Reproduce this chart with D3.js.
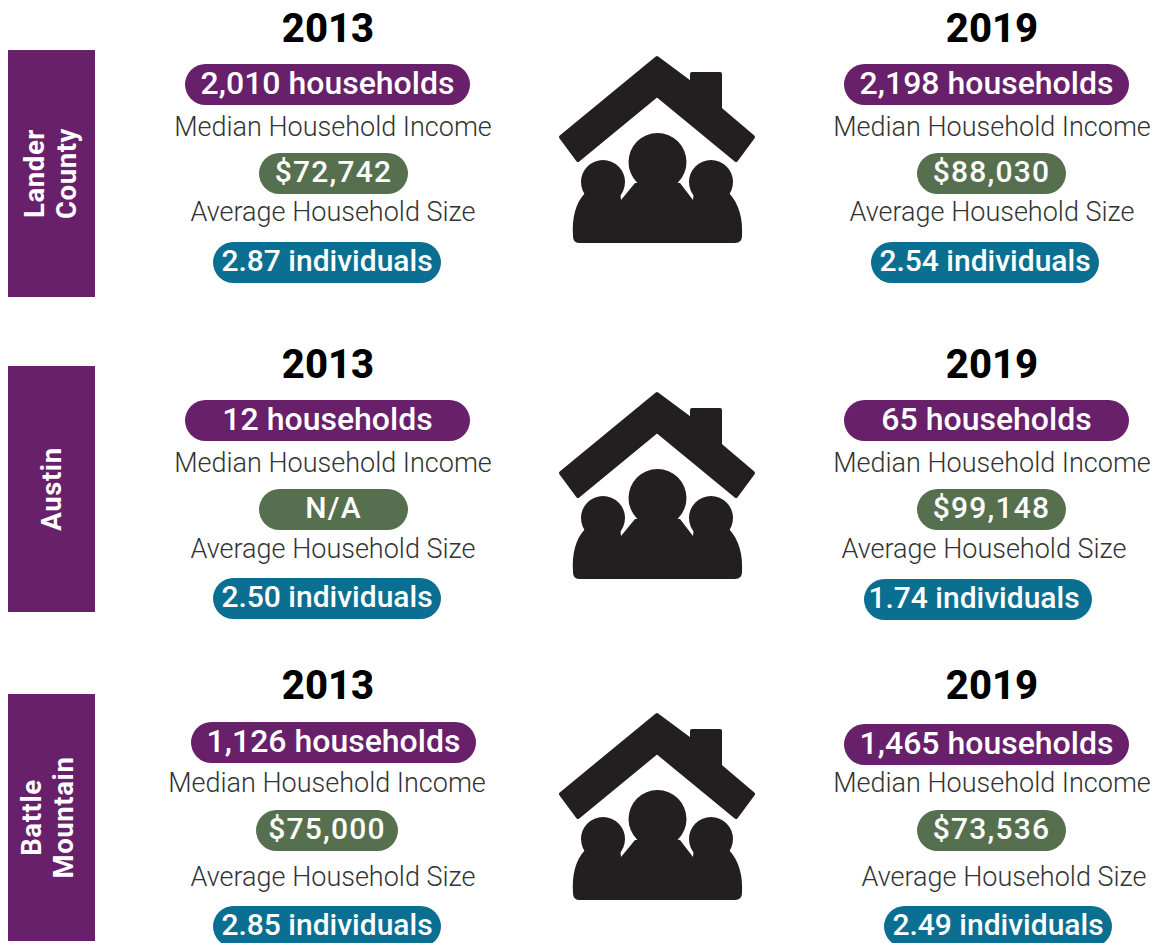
<!DOCTYPE html>
<html><head><meta charset="utf-8">
<script src="https://cdnjs.cloudflare.com/ajax/libs/d3/7.8.5/d3.min.js"></script>
<style>html,body{margin:0;padding:0;background:#fff}svg{display:block}text{font-family:Roboto,sans-serif}</style>
</head><body><svg id="c" width="1154" height="943"></svg>
<script>
const places = [["Lander","County"],["Austin"],["Battle","Mountain"]];
const years = ["2013","2019"];
const households = [["2,010 households","2,198 households"],["12 households","65 households"],["1,126 households","1,465 households"]];
const incomes = [["$72,742","$88,030"],["N/A","$99,148"],["$75,000","$73,536"]];
const sizes = [["2.87 individuals","2.54 individuals"],["2.50 individuals","1.74 individuals"],["2.85 individuals","2.49 individuals"]];
const incomeLabel = "Median Household Income";
const sizeLabel = "Average Household Size";

const layout = [
 {rect:[50,297],lx:50,icon:0,cols:[
  {yr:[328,28],hh:[185,64],ml:[333,127],inc:[259,153],sl:[333,212],sz:[213,242]},
  {yr:[992,28],hh:[844,64],ml:[992,127],inc:[917,153],sl:[992,212],sz:[871,242]}]},
 {rect:[366,612],lx:51,icon:336,cols:[
  {yr:[328,364],hh:[185,400],ml:[333,463],inc:[259,489],sl:[333,549],sz:[213,578]},
  {yr:[992,364],hh:[844,400],ml:[992,463],inc:[917,489],sl:[984,549],sz:[864,579,-4]}]},
 {rect:[694,941],lx:47.5,icon:657,cols:[
  {yr:[328,685],hh:[191,722],ml:[327,783],inc:[256,810,0,142],sl:[333,877],sz:[213,906]},
  {yr:[992,685],hh:[844,724],ml:[992,783],inc:[917,810],sl:[1004,877],sz:[884,906]}]}
];
const pillW = {hh:285, inc:149, sz:228}, pillH = 41;
const pillFont = {hh:32, inc:30, sz:30}, pillSpacing = {hh:0, inc:1.2, sz:0};
const colors = {hh:"#68206b", inc:"#56704f", sz:"#0b6f92"};
const ink = "#231f20";
const svg = d3.select("#c");

const roof = "M657 58L692 84V74H720V109L753 137L736 160L657 95L578 160L561 137Z";
const shoulders = "M579 243Q573 243 573 236C572 218 575 204 585 193L620 190L621 200L635 183H680L693 200L694 190L729 193C739 204 743 218 742 236Q742 243 735 243Z";
const heads = [[603,182,22],[657.5,162,29],[711,182,22]];

layout.forEach((row,r)=>{
  const g = svg.append("g");
  const rh = row.rect[1]-row.rect[0];
  g.append("rect").attr("x",8).attr("y",row.rect[0]).attr("width",87).attr("height",rh).attr("fill","#68206b");
  const lines = places[r], cy = row.rect[0]+rh/2, lh = 32;
  lines.forEach((t,i)=>{
    const x = row.lx + (i-(lines.length-1)/2)*lh;
    g.append("text").attr("transform",`translate(${x},${cy}) rotate(-90)`).attr("text-anchor","middle")
     .attr("dominant-baseline","central").attr("font-size",27.5).attr("font-weight",700).attr("fill","#fff").attr("letter-spacing",0.6).text(t);
  });
  const ic = g.append("g").attr("transform",`translate(0,${row.icon})`).attr("fill",ink);
  ic.append("path").attr("d",roof).attr("stroke",ink).attr("stroke-width",4).attr("stroke-linejoin","round");
  ic.append("path").attr("d",shoulders);
  ic.selectAll("circle").data(heads).join("circle").attr("cx",d=>d[0]).attr("cy",d=>d[1]).attr("r",d=>d[2]);

  row.cols.forEach((c,k)=>{
    g.append("text").attr("x",c.yr[0]).attr("y",c.yr[1]).attr("text-anchor","middle").attr("dominant-baseline","central")
      .attr("font-size",40).attr("font-weight",800).attr("fill","#000").text(years[k]);
    const pill=(key,val)=>{
      const [x,y,dx=0,wo]=c[key], w=wo||pillW[key];
      g.append("rect").attr("x",x).attr("y",y).attr("width",w).attr("height",pillH).attr("rx",pillH/2).attr("fill",colors[key]);
      g.append("text").attr("x",x+w/2+dx).attr("y",y+pillH/2-2).attr("text-anchor","middle").attr("dominant-baseline","central")
       .attr("font-size",pillFont[key]).attr("letter-spacing",pillSpacing[key]).attr("font-weight",500).attr("fill","#fff").text(val);
    };
    pill("hh",households[r][k]); pill("inc",incomes[r][k]); pill("sz",sizes[r][k]);
    [[c.ml,incomeLabel],[c.sl,sizeLabel]].forEach(([p,t])=>{
      g.append("text").attr("x",p[0]).attr("y",p[1]).attr("text-anchor","middle").attr("dominant-baseline","central")
       .attr("font-size",27).attr("font-weight",300).attr("fill","#333").text(t);
    });
  });
});
</script></body></html>
